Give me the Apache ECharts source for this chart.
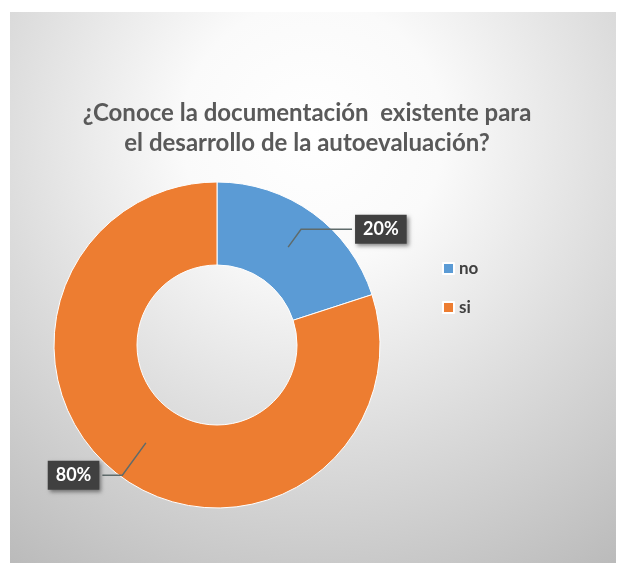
<!DOCTYPE html>
<html>
<head>
<meta charset="utf-8">
<script src="https://cdn.jsdelivr.net/npm/echarts@6/dist/echarts.min.js"></script>
<style>
html,body{margin:0;padding:0;background:#fff;}
#main{width:624px;height:565px;}
</style>
</head>
<body>
<div id="main"></div>
<script>
var titleLines = ['¿Conoce la documentación  existente para', 'el desarrollo de la autoevaluación?'];
var categories = ['no', 'si'];
var values = [20, 80];
var colors = ['#5B9BD5', '#ED7D31'];

var FONT = 'Lato, "Open Sans", sans-serif';
var labelLineCfg = [
  {length: 22, length2: 51},
  {length: 40, length2: 20}
];

var chart = echarts.init(document.getElementById('main'));

var pieData = categories.map(function (c, i) {
  return {name: c, value: values[i], itemStyle: {color: colors[i]}};
});
var labelData = categories.map(function (c, i) {
  return {name: c, value: values[i], labelLine: labelLineCfg[i]};
});

chart.setOption({
  backgroundColor: '#ffffff',
  animation: false,
  graphic: [{
    type: 'rect',
    z: -10,
    silent: true,
    shape: {x: 10, y: 12, width: 606, height: 551},
    style: {
      fill: new echarts.graphic.RadialGradient(0.5, 0.22, 0.95, [
        {offset: 0, color: '#ffffff'},
        {offset: 0.25, color: '#fafafa'},
        {offset: 0.6, color: '#dcdcdc'},
        {offset: 1, color: '#bbbbbb'}
      ])
    }
  }],
  title: {
    text: titleLines.join('\n'),
    left: 302,
    top: 93,
    textAlign: 'center',
    textStyle: {
      color: '#595959',
      fontSize: 24,
      fontWeight: 'bold',
      fontFamily: FONT,
      lineHeight: 30
    }
  },
  legend: {
    orient: 'vertical',
    left: 437,
    top: 255,
    itemWidth: 11,
    itemHeight: 11,
    itemGap: 22,
    icon: 'rect',
    data: categories,
    textStyle: {color: '#404040', fontSize: 17, fontFamily: FONT, fontWeight: 'bold'}
  },
  series: [{
    type: 'pie',
    z: 2,
    center: [217, 345],
    radius: [80, 163],
    startAngle: 90,
    clockwise: true,
    silent: true,
    label: {show: false},
    labelLine: {show: false},
    itemStyle: {borderColor: '#ffffff', borderWidth: 1},
    data: pieData
  }, {
    type: 'pie',
    z: 6,
    center: [217, 345],
    radius: [0, 121],
    startAngle: 90,
    clockwise: true,
    silent: true,
    legendHoverLink: false,
    itemStyle: {color: 'rgba(0,0,0,0)'},
    label: {
      show: true,
      position: 'outside',
      formatter: function (p) { return p.value + '%'; },
      color: '#ffffff',
      fontSize: 18,
      fontWeight: 'bold',
      fontFamily: FONT,
      backgroundColor: '#404040',
      padding: [6, 8, 5, 8],
      shadowColor: 'rgba(0,0,0,0.45)',
      shadowBlur: 4,
      shadowOffsetX: 2,
      shadowOffsetY: 2,
      distanceToLabelLine: 3
    },
    labelLine: {
      show: true,
      smooth: false,
      lineStyle: {color: '#5f6b6b', width: 1.5}
    },
    data: labelData
  }]
});
</script>
</body>
</html>
